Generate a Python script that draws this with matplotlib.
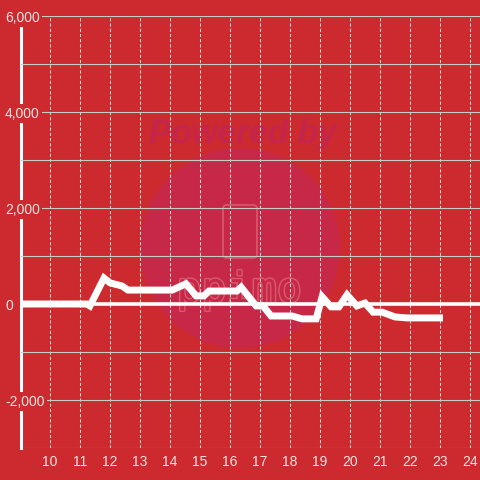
import matplotlib
matplotlib.use('Agg')
import matplotlib.pyplot as plt
from matplotlib.patches import Circle, FancyBboxPatch
import matplotlib.patheffects as pe

# ---- data ----
hours = [9.0, 11.23, 11.33, 11.8, 12.0, 12.4, 12.6, 14.07, 14.53, 14.87, 15.13,
         15.3, 16.23, 16.37, 16.87, 17.1, 17.37, 18.07, 18.4, 18.87, 19.07,
         19.37, 19.63, 19.9, 20.23, 20.5, 20.77, 21.07, 21.5, 21.9, 23.1]
values = [0, 0, -40, 540, 440, 375, 290, 290, 420, 170, 170,
          270, 270, 350, -40, -40, -250, -250, -310, -310, 150,
          -60, -60, 190, -40, 20, -170, -170, -270, -290, -290]
x_ticks = list(range(10, 25))
x_labels = [str(h) for h in x_ticks]
y_ticks = list(range(-3000, 6001, 1000))
y_labels = ['' if v % 2000 else f'{v:,}' for v in y_ticks]
y_labels[0] = ''

BG = '#cc2a2e'
CIRCLE = '#c82847'
WM = '#c5254b'
OUT = '#d85a70'
LABEL = '#f4e2e2'

plt.rcParams['font.family'] = ['Liberation Sans', 'DejaVu Sans']

fig = plt.figure(figsize=(4.8, 4.8), dpi=100, facecolor=BG)
ax = fig.add_axes([21/480, 32/480, 459/480, 432/480])
ax.set_facecolor(BG)
ax.set_xlim(9.033, 24.333)
ax.set_ylim(-3000, 6000)
for s in ax.spines.values():
    s.set_visible(False)

ax.set_xticks(x_ticks)
ax.set_xticklabels(x_labels)
ax.set_yticks(y_ticks)
ax.set_yticklabels(y_labels)
ax.tick_params(axis='both', length=0, colors=LABEL, labelsize=10)
ax.tick_params(axis='y', pad=11.5)
ax.tick_params(axis='x', pad=5)
ax.grid(axis='y', color='#c9ccc6', lw=0.8, ls='-')
ax.grid(axis='x', color='#dcdcd4', lw=0.75, ls=(0, (3, 2)))
for lab in ax.get_yticklabels():
    lab.set_ha('left')
    lab.set_bbox(dict(facecolor=BG, edgecolor='none', pad=1.5))

# watermark
ax.add_patch(Circle((240/480, 1 - 248/480), 100/480, transform=fig.transFigure,
                    facecolor=CIRCLE, edgecolor='none', zorder=0.8))
ax.text(243/480, 1 - 134/480, 'Powered by', transform=fig.transFigure,
        ha='center', va='center', fontsize=24, fontweight='bold',
        fontstyle='italic', color=WM, zorder=0.85)
ax.add_patch(FancyBboxPatch((223/480, 1 - 258/480), 34/480, 53/480,
                            boxstyle='round,pad=0,rounding_size=0.008',
                            transform=fig.transFigure, facecolor='none',
                            edgecolor=OUT, lw=1.2, zorder=0.9))
ax.text(239/480, 1 - 290/480, 'ppimo', transform=fig.transFigure,
        ha='center', va='center', fontsize=30, family='DejaVu Sans Mono',
        color=CIRCLE, zorder=0.9,
        path_effects=[pe.withStroke(linewidth=2, foreground=OUT)])

# axis line, zero line, data
ax.axvline(9.033, color='white', lw=2.2, zorder=1, clip_on=False)
ax.axhline(0, color='white', lw=2.6, zorder=3)
ax.plot(hours, values, color='white', lw=5, zorder=4,
        solid_joinstyle='miter', solid_capstyle='butt')

fig.savefig('out.png', dpi=100, facecolor=BG)
